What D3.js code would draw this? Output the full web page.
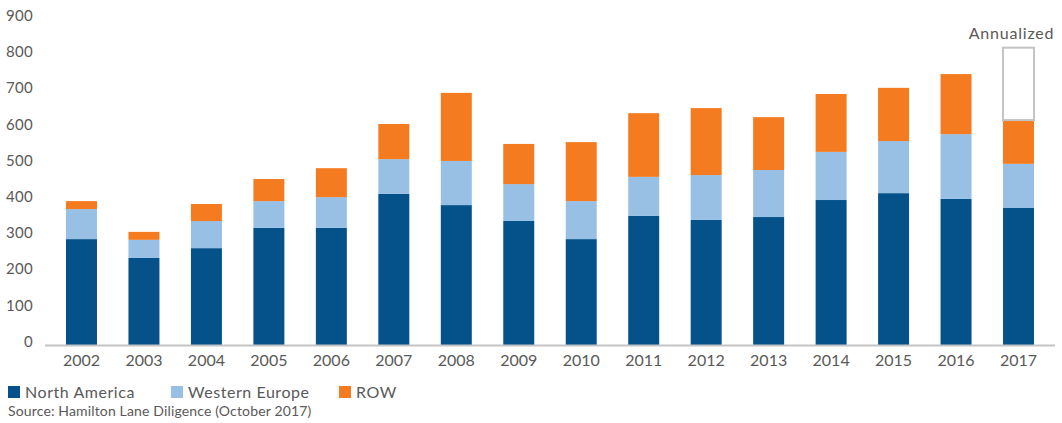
<!DOCTYPE html>
<html>
<head>
<meta charset="utf-8">
<script src="https://cdn.jsdelivr.net/npm/d3@7"></script>
<style>
  html, body { margin: 0; padding: 0; background: #fff; }
  svg { display: block; font-family: Lato, "Open Sans", sans-serif; }
</style>
</head>
<body>
<svg id="chart" width="1062" height="423"></svg>
<script>
// Commitment volume by region, 2002–2017
const years = ["2002","2003","2004","2005","2006","2007","2008","2009","2010","2011","2012","2013","2014","2015","2016","2017"];
const northAmerica = [294, 242, 269, 325, 325, 419, 388, 344, 294, 358, 347, 355, 402, 421, 405, 380];
const westernEurope = [83, 50, 75, 74, 85, 96, 122, 102, 105, 108, 124, 130, 133, 144, 179, 122];
const row = [22, 22, 47, 61, 80, 97, 188, 111, 163, 176, 185, 146, 160, 147, 166, 121];
const annualizedYear = "2017";
const annualizedTotal = 823;
const yTicks = [0, 100, 200, 300, 400, 500, 600, 700, 800, 900];

const seriesKeys = ["North America", "Western Europe", "ROW"];
const colors = { "North America": "#05528A", "Western Europe": "#98BFE4", "ROW": "#F47B20" };
const textColor = "#595959";

const table = years.map((y, i) => ({
  year: y,
  "North America": northAmerica[i],
  "Western Europe": westernEurope[i],
  "ROW": row[i]
}));

const svg = d3.select("#chart");

const x = d3.scaleBand()
  .domain(years)
  .range([50, 1050])
  .paddingInner(0.504)
  .paddingOuter(0.256);

const y = d3.scaleLinear()
  .domain([0, 900])
  .range([345.5, 19.8]);

const stacked = d3.stack().keys(seriesKeys)(table);

// stacked bars
svg.append("g")
  .selectAll("g")
  .data(stacked)
  .join("g")
  .attr("fill", d => colors[d.key])
  .selectAll("rect")
  .data(d => d)
  .join("rect")
  .attr("x", d => x(d.data.year))
  .attr("width", x.bandwidth())
  .attr("y", d => y(d[1]))
  .attr("height", d => y(d[0]) - y(d[1]));

// annualized outline for the partial year
const lastIdx = years.indexOf(annualizedYear);
const lastTotal = northAmerica[lastIdx] + westernEurope[lastIdx] + row[lastIdx];
svg.append("rect")
  .attr("x", x(annualizedYear))
  .attr("width", x.bandwidth())
  .attr("y", y(annualizedTotal))
  .attr("height", y(lastTotal) - y(annualizedTotal))
  .attr("fill", "none")
  .attr("stroke", "#C4C4C4")
  .attr("stroke-width", 2);

svg.append("text")
  .attr("x", x(annualizedYear) + x.bandwidth() / 2 - 7)
  .attr("y", y(annualizedTotal) - 9)
  .attr("text-anchor", "middle")
  .attr("fill", textColor)
  .attr("font-size", 16)
  .attr("letter-spacing", 0.8)
  .text("Annualized");

// y axis labels (no axis line, no grid)
const yAxis = d3.axisLeft(y).tickValues(yTicks).tickSize(0).tickPadding(0);
const gy = svg.append("g").attr("transform", "translate(33,-4)").call(yAxis);
gy.select(".domain").remove();
gy.selectAll("text")
  .attr("fill", textColor)
  .attr("font-size", 15)
  .attr("letter-spacing", 0.3)
  .attr("font-family", "Lato, 'Open Sans', sans-serif");

// x axis
const xAxis = d3.axisBottom(x).tickSize(0).tickPadding(9);
const gx = svg.append("g").attr("transform", `translate(0,${y(0)})`).call(xAxis);
gx.select(".domain").remove();
gx.selectAll("text")
  .attr("fill", textColor)
  .attr("font-size", 16)
  .attr("font-family", "Lato, 'Open Sans', sans-serif");

svg.append("line")
  .attr("x1", 45).attr("x2", 1055)
  .attr("y1", y(0)).attr("y2", y(0))
  .attr("stroke", "#C4C4C4")
  .attr("stroke-width", 2);

// legend
const legendX = [8, 171, 339];
const legend = svg.append("g")
  .selectAll("g")
  .data(seriesKeys)
  .join("g")
  .attr("transform", (d, i) => `translate(${legendX[i]},386)`);
legend.append("rect")
  .attr("width", 12).attr("height", 12)
  .attr("fill", d => colors[d]);
legend.append("text")
  .attr("x", 17).attr("y", 12)
  .attr("fill", textColor)
  .attr("font-size", 16)
  .attr("letter-spacing", 0.55)
  .text(d => d);

svg.append("text")
  .attr("x", 8).attr("y", 416)
  .attr("fill", textColor)
  .attr("font-size", 14)
  .attr("letter-spacing", 0.15)
  .text("Source: Hamilton Lane Diligence (October 2017)");
</script>
</body>
</html>
